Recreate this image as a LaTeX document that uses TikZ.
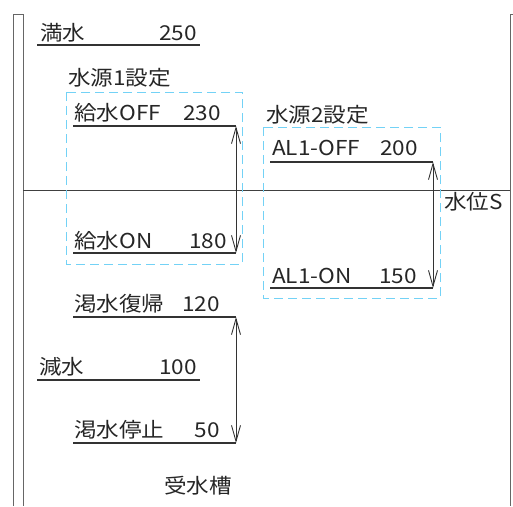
\documentclass[tikz,border=0pt]{standalone}
\usepackage{fontspec}
\newfontfamily\jp[FakeStretch=1.1]{Noto Sans CJK JP}
\usetikzlibrary{arrows.meta}
\begin{document}
\begin{tikzpicture}[x=1pt,y=-1pt,
  lbl/.style={font=\jp\fontsize{20.5}{20.5}\selectfont, inner sep=0pt, anchor=base west, text=black!85},
  num/.style={lbl, anchor=base east},
  lvl/.style={draw=black!80, line width=1.3pt},
  wall/.style={draw=black!60, line width=0.9pt},
  grp/.style={draw=cyan!55!white, dash pattern=on 9pt off 5pt, line width=1pt},
  rng/.style={draw=black!80, line width=0.9pt, {Straight Barb[length=16pt,width=9pt]}-{Straight Barb[length=16pt,width=9pt]}}
]
\useasboundingbox (0,0) rectangle (513,506);
% walls
\draw[wall] (13,506) -- (13,14) -- (23,14) -- (23,506);
\draw[wall] (513,14) -- (510,14) -- (510,506);
% water level line
\coordinate (wl) at (23,190);
\coordinate (wr) at (510,190);
\draw[wall, draw=black!75] (wl) -- (wr);
% group boxes
\draw[grp] (66,92) rectangle (242,264);
\draw[grp] (263,127) rectangle (440,298);
% level lines
\coordinate (mL) at (37,45);   \coordinate (mR) at (200,45);
\coordinate (offL) at (73,126);\coordinate (offR) at (236,126);
\coordinate (onL) at (73,253); \coordinate (onR) at (236,253);
\coordinate (aoffL) at (270,162); \coordinate (aoffR) at (433,162);
\coordinate (aonL) at (270,288);  \coordinate (aonR) at (433,288);
\coordinate (rL) at (73,317);  \coordinate (rR) at (236,317);
\coordinate (gL) at (37,380);  \coordinate (gR) at (200,380);
\coordinate (sL) at (73,443);  \coordinate (sR) at (236,443);
\foreach \a in {m,off,on,aoff,aon,r,g,s} {\draw[lvl] (\a L) -- (\a R);}
% ranges
\draw[rng] (onR) -- (offR);
\draw[rng] (aonR) -- (aoffR);
\draw[rng] (sR) -- (rR);
% labels
\node[lbl] (t1) at (40,40) {満水};
\node[num] (v1) at (197,40) {250};
\node[lbl] (g1) at (68,85) {水源1設定};
\node[lbl] (t2) at (74,120) {給水OFF};
\node[num] (v2) at (221,120) {230};
\node[lbl] (t3) at (74,248) {給水ON};
\node[num] (v3) at (227,248) {180};
\node[lbl] (g2) at (266,122) {水源2設定};
\node[lbl] (t4) at (272,155) {AL1-OFF};
\node[num] (v4) at (418,155) {200};
\node[lbl] (t5) at (272,283) {AL1-ON};
\node[num] (v5) at (417,283) {150};
\node[lbl] (ws) at (444,209) {水位S};
\node[lbl] (t6) at (74,311) {渇水復帰};
\node[num] (v6) at (220,311) {120};
\node[lbl] (t7) at (39,374) {減水};
\node[num] (v7) at (197,374) {100};
\node[lbl] (t8) at (74,437) {渇水停止};
\node[num] (v8) at (220,437) {50};
\node[lbl] (tank) at (164,493) {受水槽};
\end{tikzpicture}
\end{document}
